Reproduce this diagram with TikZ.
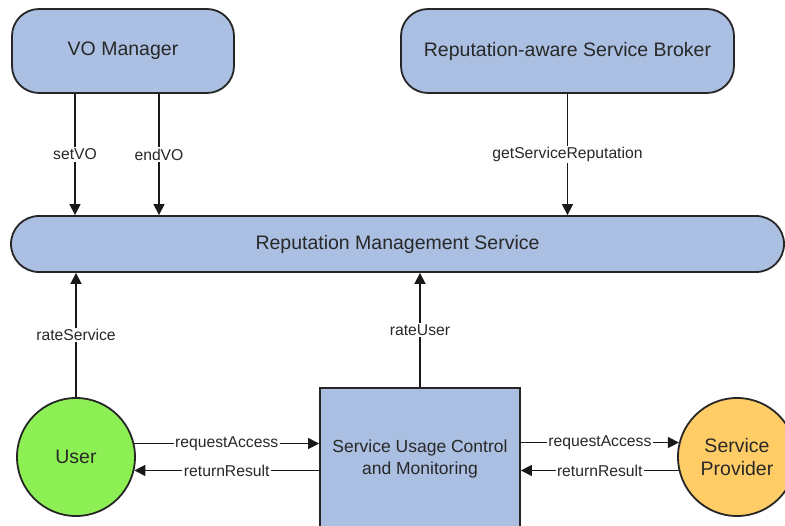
\documentclass[tikz,border=0pt]{standalone}
\usepackage{fontspec}
\setmainfont{Liberation Sans}
\usetikzlibrary{arrows.meta}
\definecolor{boxblue}{RGB}{170,191,225}
\definecolor{usergreen}{RGB}{140,240,85}
\definecolor{provorange}{RGB}{255,204,102}
\definecolor{txt}{RGB}{40,40,40}
\begin{document}
\begin{tikzpicture}[x=1pt,y=-1pt,
  nodefont/.style={font=\fontsize{19.5}{23}\selectfont, text=txt},
  roundbox/.style={draw=black!85, line width=1.8pt, fill=boxblue, rounded corners=27pt, nodefont, inner sep=0pt},
  circ/.style={circle, draw=black!85, line width=1.8pt, minimum size=118pt, inner sep=0pt, nodefont, align=center},
  conn/.style={line width=1.3pt, draw=black!90, -{Triangle[length=11pt,width=11pt]}},
  lbl/.style={fill=white, inner sep=1.5pt, font=\fontsize{15.7}{18}\selectfont, text=txt}
]
\useasboundingbox (0,0) rectangle (785,526);
\clip (0,0) rectangle (785,526);
\fill[white] (0,0) rectangle (785,526);

\node[roundbox, minimum width=222pt, minimum height=84pt] (vo) at (123,51) {VO Manager};
\node[roundbox, minimum width=333pt, minimum height=84pt] (broker) at (567.5,51) {Reputation-aware Service Broker};
\node[roundbox, rounded corners=28pt, minimum width=773pt, minimum height=56pt] (rms) at (397.5,244) {Reputation Management Service};

\node[circ, fill=usergreen] (user) at (76,457) {User};
\node[draw=black!85, line width=1.8pt, fill=boxblue, minimum width=200pt, minimum height=142pt, inner sep=0pt, font=\fontsize{17.5}{21.5}\selectfont, text=txt, align=center] (su) at (420,459) {Service Usage Control\\and Monitoring};
\node[circ, fill=provorange] (sp) at (737,457) {Service\\Provider};

\draw[conn] (vo.south -| 75,0) -- node[lbl] {setVO} (rms.north -| 75,0);
\draw[conn] (vo.south -| 159,0) -- node[lbl] {endVO} (rms.north -| 159,0);
\draw[conn] (broker.south) -- node[lbl] {getServiceReputation} (rms.north -| broker.south);

\draw[conn] (user.north) -- node[lbl] {rateService} (rms.south -| user.north);
\draw[conn] (su.north) -- node[lbl] {rateUser} (rms.south -| su.north);

\draw[conn] (user.13.7) -- node[lbl] {requestAccess} (su.west |- user.13.7);
\draw[conn] (su.west |- user.-13.7) -- node[lbl] {returnResult} (user.-13.7);
\draw[conn] (su.east |- sp.166.3) -- node[lbl] {requestAccess} (sp.166.3);
\draw[conn] (sp.193.7) -- node[lbl] {returnResult} (su.east |- sp.193.7);
\end{tikzpicture}
\end{document}
